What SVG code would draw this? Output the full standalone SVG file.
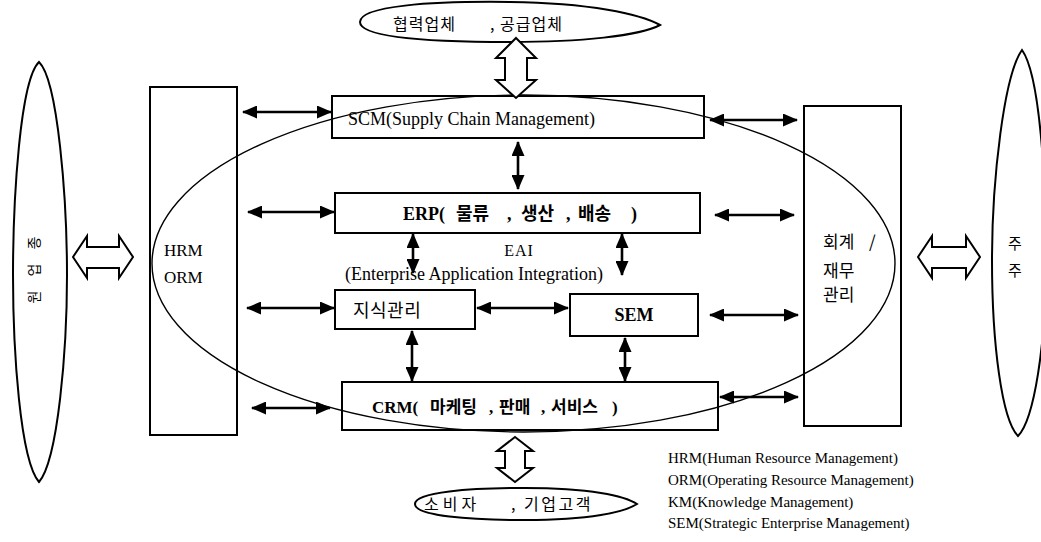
<svg xmlns="http://www.w3.org/2000/svg" width="1041" height="542" viewBox="0 0 1041 542">
<style>
.box{fill:none;stroke:#000;stroke-width:2}
.shape{fill:#fff;stroke:#000;stroke-width:2}
.hol{fill:#fff;stroke:#000;stroke-width:2;stroke-linejoin:miter}
.big{fill:none;stroke:#000;stroke-width:1.4}
.con{stroke:#000;stroke-width:2.6;fill:none;marker-start:url(#ah);marker-end:url(#ah)}
.lat{font-family:"Liberation Serif","Noto Sans CJK KR",serif;fill:#000}
.kr{font-family:"Noto Sans CJK KR","Liberation Sans",sans-serif;fill:#000}
.b{font-weight:bold}
</style>
<defs>
<marker id="ah" viewBox="0 0 15 13" refX="14" refY="6.5" markerWidth="15" markerHeight="13" markerUnits="userSpaceOnUse" orient="auto-start-reverse">
<path d="M0,0 L15,6.5 L0,13 Z" fill="#000"/>
</marker>
</defs>
<rect width="1041" height="542" fill="#fff"/>

<g id="partners">
<path class="shape" d="M360,22 C360,6 430,1 510,2 C590,3 640,14 660,25 C640,36 580,42 510,42 C430,42 360,38 360,22 Z"/>
<text class="kr" font-size="16" y="30"><tspan x="393" letter-spacing="1">협력업체</tspan><tspan x="490" letter-spacing="1">, 공급업체</tspan></text>
</g>

<g id="employees">
<path class="shape" d="M39,62 C20,80 13,200 13,275 C13,350 20,460 39,482 C58,460 67,350 67,275 C67,200 58,80 39,62 Z"/>
<text class="kr" font-size="14" text-anchor="middle" transform="translate(34,243) rotate(-90)" dy="5">종</text>
<text class="kr" font-size="14" text-anchor="middle" transform="translate(34,270) rotate(-90)" dy="5">업</text>
<text class="kr" font-size="14" text-anchor="middle" transform="translate(34,297) rotate(-90)" dy="5">원</text>
</g>

<g id="shareholders">
<path class="shape" d="M1022,50 C1004,75 992,180 992,260 C992,345 1002,420 1018,436 C1034,420 1046,345 1046,260 C1046,180 1040,75 1022,50 Z"/>
<text class="kr" font-size="15" x="1015" y="249" text-anchor="middle">주</text>
<text class="kr" font-size="15" x="1015" y="276" text-anchor="middle">주</text>
</g>

<g id="consumers">
<path class="shape" d="M415,504 C415,492 470,488 525,488 C590,488 625,496 637,504 C625,512 590,520 525,520 C470,520 415,516 415,504 Z"/>
<text class="kr" font-size="16" y="510"><tspan x="424" letter-spacing="4">소비자</tspan><tspan x="511" letter-spacing="2.5">, 기업고객</tspan></text>
</g>

<g id="hrm">
<rect class="box" x="150" y="87" width="87" height="348"/>
<text class="lat" font-size="17" x="164" y="256">HRM</text>
<text class="lat" font-size="17" x="164" y="283">ORM</text>
</g>

<g id="finance">
<rect class="box" x="804" y="106" width="97" height="320"/>
<text class="kr" font-size="17" y="248"><tspan x="823">회계</tspan><tspan x="869">/</tspan></text>
<text class="kr" font-size="17" x="823" y="277">재무</text>
<text class="kr" font-size="17" x="823" y="301">관리</text>
</g>

<g id="scm">
<rect class="box" x="332" y="96" width="372" height="42"/>
<text class="lat" font-size="18" x="348" y="125">SCM(Supply Chain Management)</text>
</g>

<g id="erp">
<rect class="box" x="335" y="193" width="365" height="40"/>
<text class="lat b" font-size="18" y="220"><tspan x="403">ERP(</tspan><tspan x="456">물류</tspan><tspan x="507">,</tspan><tspan x="521">생산</tspan><tspan x="566">,</tspan><tspan x="578">배송</tspan><tspan x="631">)</tspan></text>
</g>

<g id="eai">
<text class="lat" font-size="16" x="519" y="256" text-anchor="middle" letter-spacing="1">EAI</text>
<text class="lat" font-size="18" x="345" y="280">(Enterprise Application Integration)</text>
</g>

<g id="km">
<rect class="box" x="335" y="290" width="140" height="39"/>
<text class="kr" font-size="18" x="353" y="317" letter-spacing="0.5">지식관리</text>
</g>

<g id="sem">
<rect class="box" x="570" y="294" width="128" height="42"/>
<text class="lat b" font-size="18" x="634" y="321" text-anchor="middle">SEM</text>
</g>

<g id="crm">
<rect class="box" x="342" y="382" width="376" height="48"/>
<text class="lat b" font-size="17" y="413"><tspan x="372">CRM(</tspan><tspan x="430">마케팅</tspan><tspan x="489">,</tspan><tspan x="499">판매</tspan><tspan x="541">,</tspan><tspan x="551">서비스</tspan><tspan x="612">)</tspan></text>
</g>

<g id="enterprise-boundary">
<ellipse class="big" cx="523.5" cy="263.5" rx="371.5" ry="168.5"/>
</g>

<g id="connectors">
<path class="hol" d="M516,38 L536,58 L527,58 L527,80 L536,80 L516,98 L496,80 L505,80 L505,58 L496,58 Z"/>
<path class="hol" d="M515,437 L533,451 L525,451 L525,468 L533,468 L515,482 L497,468 L505,468 L505,451 L497,451 Z"/>
<path class="hol" d="M73,257 L87,236 L87,247 L119,247 L119,236 L133,257 L119,278 L119,268 L87,268 L87,278 Z"/>
<path class="hol" d="M918,257 L932,236 L932,247 L966,247 L966,236 L980,257 L966,278 L966,268 L932,268 L932,278 Z"/>
<line class="con" x1="243" y1="112" x2="331" y2="112"/>
<line class="con" x1="248" y1="212" x2="334" y2="212"/>
<line class="con" x1="247" y1="308" x2="334" y2="308"/>
<line class="con" x1="252" y1="408" x2="330" y2="408"/>
<line class="con" x1="710" y1="120" x2="797" y2="120"/>
<line class="con" x1="715" y1="215" x2="794" y2="215"/>
<line class="con" x1="710" y1="315" x2="798" y2="315"/>
<line class="con" x1="720" y1="397" x2="798" y2="397"/>
<line class="con" x1="518" y1="142" x2="518" y2="189"/>
<line class="con" x1="413" y1="234" x2="413" y2="273"/>
<line class="con" x1="622" y1="234" x2="622" y2="275"/>
<line class="con" x1="477" y1="308" x2="568" y2="308"/>
<line class="con" x1="412" y1="331" x2="412" y2="381"/>
<line class="con" x1="625" y1="338" x2="625" y2="381"/>
</g>

<g id="legend">
<text class="lat" font-size="15" x="668" y="463">HRM(Human Resource Management)</text>
<text class="lat" font-size="15" x="668" y="485">ORM(Operating Resource Management)</text>
<text class="lat" font-size="15" x="668" y="507">KM(Knowledge Management)</text>
<text class="lat" font-size="15" x="668" y="528">SEM(Strategic Enterprise Management)</text>
</g>
</svg>
